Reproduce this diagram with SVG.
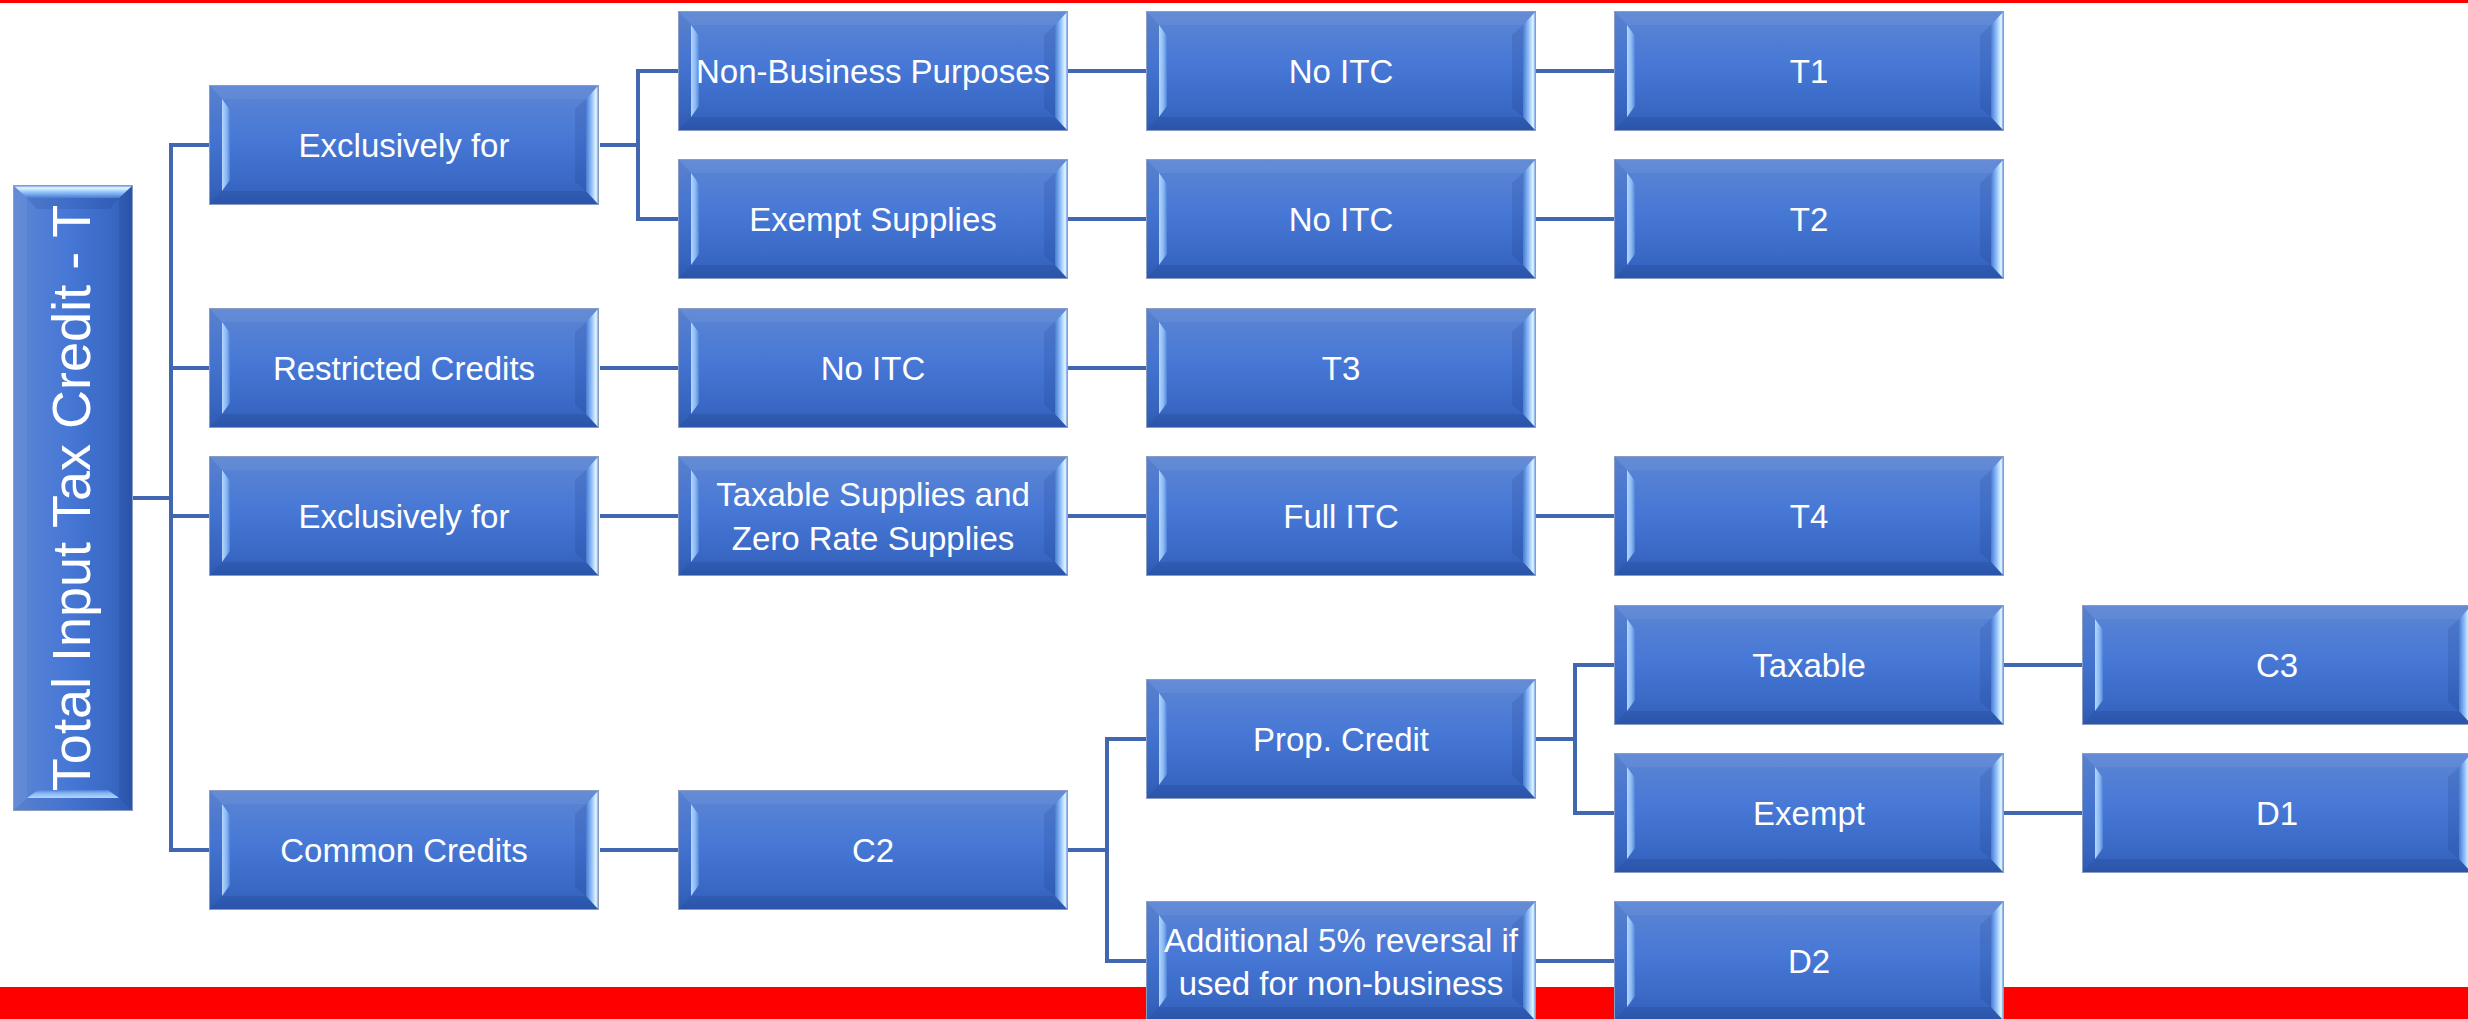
<svg xmlns="http://www.w3.org/2000/svg" xmlns:xlink="http://www.w3.org/1999/xlink" width="2468" height="1019" viewBox="0 0 2468 1019">
  <style>
    .lbl { fill: #ffffff; font-family: "Liberation Sans", Arial, sans-serif; font-size: 33px; text-anchor: middle; }
    .root-lbl { fill: #ffffff; font-family: "Liberation Sans", Arial, sans-serif; font-size: 54px; text-anchor: middle; }
    .wire { fill: none; stroke: #4167b0; stroke-width: 4; stroke-linejoin: miter; }
    .band { fill: #ff0000; }
  </style>
  <defs>
    <linearGradient id="face" x1="0" y1="0" x2="0" y2="1">
      <stop offset="0" stop-color="#5d86d3"/>
      <stop offset="0.45" stop-color="#4778d6"/>
      <stop offset="0.85" stop-color="#3867c3"/>
      <stop offset="1" stop-color="#2f5db5"/>
    </linearGradient>
    <linearGradient id="hiEdge" x1="0" y1="0" x2="1" y2="0">
      <stop offset="0" stop-color="#4a7bd4"/>
      <stop offset="0.45" stop-color="#8dbdf7"/>
      <stop offset="0.85" stop-color="#e6f7ff"/>
      <stop offset="1" stop-color="#7aa6e6"/>
    </linearGradient>
    <linearGradient id="loStrip" x1="0" y1="0" x2="1" y2="0">
      <stop offset="0" stop-color="#b3d8ff"/>
      <stop offset="0.6" stop-color="#86b5f2"/>
      <stop offset="1" stop-color="#4f81d8"/>
    </linearGradient>

    <!-- bevelled button, 390 x 120 -->
    <g id="bx">
      <rect x="0.5" y="0.5" width="389" height="119" fill="url(#face)" stroke="#8a9cc4" stroke-width="1"/>
      <polygon points="1,1 389,1 377,14 13,14" fill="#ffffff" fill-opacity="0.05"/>
      <polygon points="1,119 389,119 377,106 13,106" fill="#0a1f60" fill-opacity="0.13"/>
      <polygon points="1,1 13,14 13,106 1,119" fill="#0a1f60" fill-opacity="0.05"/>
      <polygon points="13,14 21,25 21,95 13,106" fill="url(#loStrip)"/>
      <polygon points="366,24 377,14 377,106 366,97" fill="#0a1f60" fill-opacity="0.12"/>
      <polygon points="377,14 389,1 389,119 377,106" fill="url(#hiEdge)"/>
    </g>
  </defs>

  <!-- page bands -->
  <rect class="band" x="0" y="0" width="2468" height="3"/>
  <rect class="band" x="0" y="987" width="2468" height="32"/>

  <!-- connectors -->
  <g id="connectors">
    <path class="wire" d="M133 498 H171"/>
    <path class="wire" d="M209 145 H171 V850 H209"/>
    <path class="wire" d="M171 368 H209"/>
    <path class="wire" d="M171 516 H209"/>

    <path class="wire" d="M600 145 H638"/>
    <path class="wire" d="M678 71 H638 V219 H678"/>
    <path class="wire" d="M600 368 H678"/>
    <path class="wire" d="M600 516 H678"/>
    <path class="wire" d="M600 850 H678"/>

    <path class="wire" d="M1068 71 H1146"/>
    <path class="wire" d="M1068 219 H1146"/>
    <path class="wire" d="M1068 368 H1146"/>
    <path class="wire" d="M1068 516 H1146"/>
    <path class="wire" d="M1068 850 H1107"/>
    <path class="wire" d="M1146 739 H1107 V961 H1146"/>

    <path class="wire" d="M1536 71 H1614"/>
    <path class="wire" d="M1536 219 H1614"/>
    <path class="wire" d="M1536 516 H1614"/>
    <path class="wire" d="M1536 739 H1575"/>
    <path class="wire" d="M1614 665 H1575 V813 H1614"/>
    <path class="wire" d="M1536 961 H1614"/>

    <path class="wire" d="M2004 665 H2082"/>
    <path class="wire" d="M2004 813 H2082"/>
  </g>

  <!-- root, drawn as a vertical button -->
  <g id="root" transform="translate(13,811) rotate(-90)">
    <rect x="0.5" y="0.5" width="625" height="119" fill="url(#face)" stroke="#8a9cc4" stroke-width="1"/>
    <polygon points="1,1 625,1 613,14 13,14" fill="#ffffff" fill-opacity="0.05"/>
    <polygon points="1,119 625,119 613,106 13,106" fill="#0a1f60" fill-opacity="0.13"/>
    <polygon points="1,1 13,14 13,106 1,119" fill="#0a1f60" fill-opacity="0.05"/>
    <polygon points="13,14 21,25 21,95 13,106" fill="url(#loStrip)"/>
    <polygon points="602,24 613,14 613,106 602,97" fill="#0a1f60" fill-opacity="0.12"/>
    <polygon points="613,14 625,1 625,119 613,106" fill="url(#hiEdge)"/>
    <text class="root-lbl" x="313" y="77">Total Input Tax Credit - T</text>
  </g>

  <!-- first level -->
  <g id="excl-a"><use href="#bx" x="209" y="85"/><text class="lbl" x="404" y="157">Exclusively for</text></g>
  <g id="restricted"><use href="#bx" x="209" y="308"/><text class="lbl" x="404" y="380">Restricted Credits</text></g>
  <g id="excl-b"><use href="#bx" x="209" y="456"/><text class="lbl" x="404" y="528">Exclusively for</text></g>
  <g id="common"><use href="#bx" x="209" y="790"/><text class="lbl" x="404" y="862">Common Credits</text></g>

  <!-- second level -->
  <g id="non-business"><use href="#bx" x="678" y="11"/><text class="lbl" x="873" y="83">Non-Business Purposes</text></g>
  <g id="exempt-supplies"><use href="#bx" x="678" y="159"/><text class="lbl" x="873" y="231">Exempt Supplies</text></g>
  <g id="no-itc-c"><use href="#bx" x="678" y="308"/><text class="lbl" x="873" y="380">No ITC</text></g>
  <g id="taxable-zero"><use href="#bx" x="678" y="456"/>
    <text class="lbl" x="873" y="506">Taxable Supplies and</text>
    <text class="lbl" x="873" y="550">Zero Rate Supplies</text></g>
  <g id="c2"><use href="#bx" x="678" y="790"/><text class="lbl" x="873" y="862">C2</text></g>

  <!-- third level -->
  <g id="no-itc-a"><use href="#bx" x="1146" y="11"/><text class="lbl" x="1341" y="83">No ITC</text></g>
  <g id="no-itc-b"><use href="#bx" x="1146" y="159"/><text class="lbl" x="1341" y="231">No ITC</text></g>
  <g id="t3"><use href="#bx" x="1146" y="308"/><text class="lbl" x="1341" y="380">T3</text></g>
  <g id="full-itc"><use href="#bx" x="1146" y="456"/><text class="lbl" x="1341" y="528">Full ITC</text></g>
  <g id="prop-credit"><use href="#bx" x="1146" y="679"/><text class="lbl" x="1341" y="751">Prop. Credit</text></g>
  <g id="additional"><use href="#bx" x="1146" y="901"/>
    <text class="lbl" x="1341" y="952">Additional 5% reversal if</text>
    <text class="lbl" x="1341" y="995">used for non-business</text></g>

  <!-- fourth level -->
  <g id="t1"><use href="#bx" x="1614" y="11"/><text class="lbl" x="1809" y="83">T1</text></g>
  <g id="t2"><use href="#bx" x="1614" y="159"/><text class="lbl" x="1809" y="231">T2</text></g>
  <g id="t4"><use href="#bx" x="1614" y="456"/><text class="lbl" x="1809" y="528">T4</text></g>
  <g id="taxable"><use href="#bx" x="1614" y="605"/><text class="lbl" x="1809" y="677">Taxable</text></g>
  <g id="exempt"><use href="#bx" x="1614" y="753"/><text class="lbl" x="1809" y="825">Exempt</text></g>
  <g id="d2"><use href="#bx" x="1614" y="901"/><text class="lbl" x="1809" y="973">D2</text></g>

  <!-- fifth level -->
  <g id="c3"><use href="#bx" x="2082" y="605"/><text class="lbl" x="2277" y="677">C3</text></g>
  <g id="d1"><use href="#bx" x="2082" y="753"/><text class="lbl" x="2277" y="825">D1</text></g>
</svg>
